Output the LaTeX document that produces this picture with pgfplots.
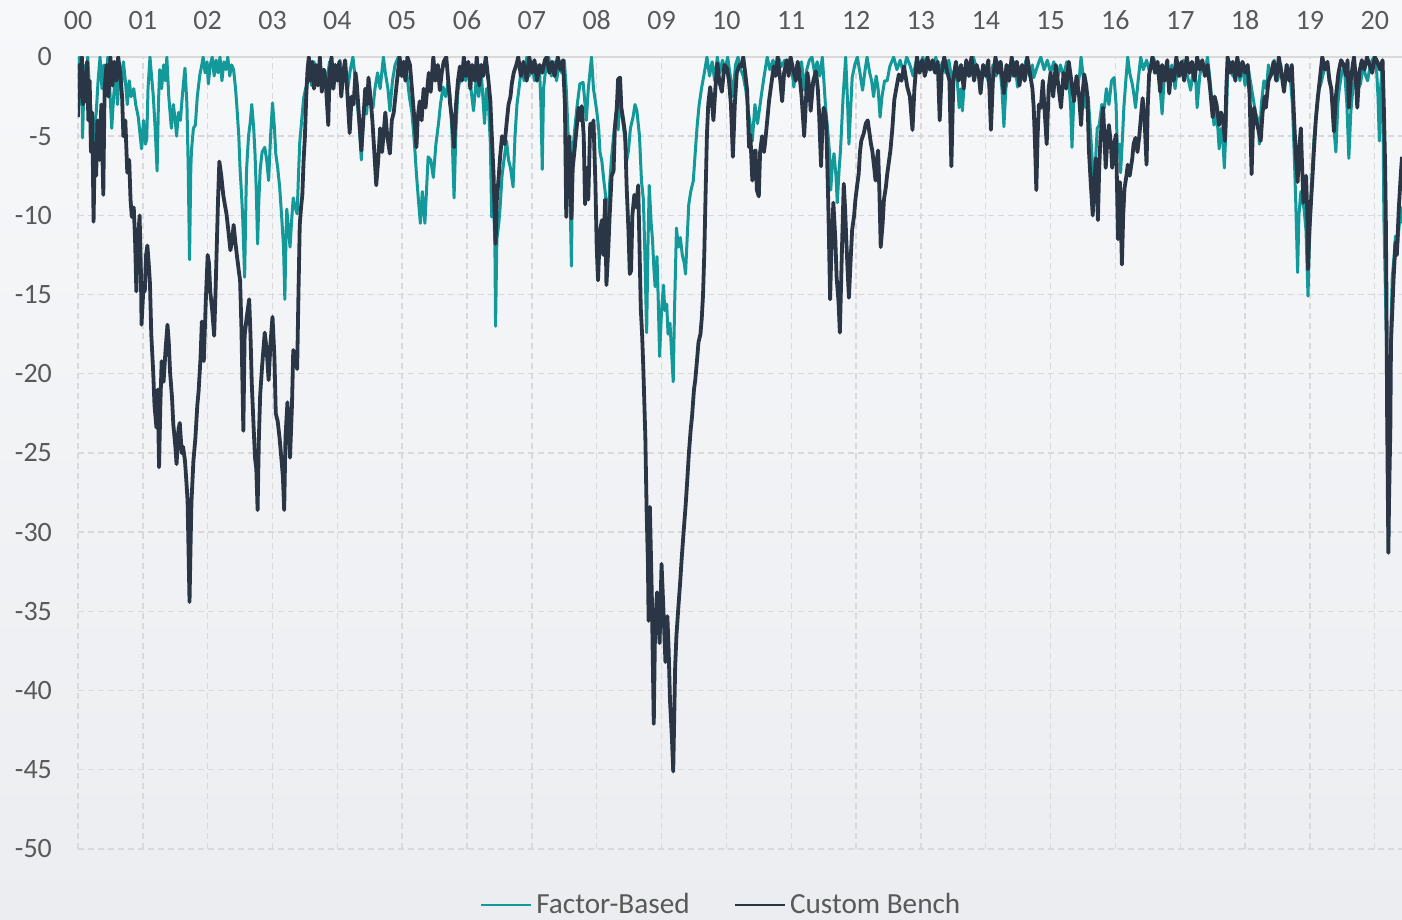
\documentclass[border=0pt]{standalone}
\usepackage{pgfplots}
\usepackage{pgfplotstable}
\pgfplotsset{compat=1.18}
\usepackage{fontspec}
\setmainfont{Carlito}

\definecolor{factor}{HTML}{13999A}
\definecolor{bench}{HTML}{2A3645}
\definecolor{gridgray}{HTML}{D9D9D9}
\definecolor{labelgray}{HTML}{595959}

% drawdown in percent, x = years after 2000
\pgfplotstableread{
x y
0.00 -2.0
0.02 0
0.04 -3.0
0.06 -1.0
0.07 -5.1
0.09 -2.0
0.11 -0.5
0.13 -2.5
0.15 0
0.17 -1.5
0.20 -3.5
0.22 -5.5
0.24 -8.7
0.26 -4.0
0.28 -3.6
0.31 -1.5
0.34 0
0.37 -2.0
0.40 -0.5
0.43 -1.5
0.46 0
0.49 -2.0
0.52 -4.5
0.55 -2.5
0.58 -1.0
0.61 -3.0
0.64 -0.5
0.67 -1.8
0.70 -0.3
0.73 -1.5
0.76 -3.0
0.79 -1.5
0.82 -2.5
0.86 -2.0
0.89 -3.0
0.93 -3.8
0.96 -5.0
0.98 -5.8
1.01 -4.0
1.04 -5.5
1.06 -5.2
1.08 -2.0
1.11 0
1.13 -1.0
1.16 -2.4
1.19 -4.5
1.22 -7.2
1.24 -3.0
1.26 -0.8
1.29 -2.0
1.32 -0.5
1.35 -1.5
1.37 0
1.40 -2.5
1.44 -4.5
1.47 -3.0
1.50 -4.0
1.52 -5.0
1.55 -3.5
1.58 -4.0
1.60 -2.9
1.63 -1.5
1.65 -0.7
1.68 -3.0
1.70 -7.0
1.72 -12.8
1.74 -7.0
1.75 -5.9
1.78 -4.5
1.81 -4.3
1.84 -2.5
1.88 -1.1
1.91 -0.5
1.93 0
1.96 -1.0
1.99 -0.3
2.01 -1.7
2.04 -0.5
2.07 0
2.10 -1.2
2.13 -0.2
2.16 -1.0
2.19 0
2.22 -1.5
2.25 -0.3
2.28 -0.8
2.31 0
2.34 -1.2
2.37 -0.5
2.40 -0.8
2.43 -2.0
2.45 -3.1
2.48 -5.0
2.50 -7.1
2.52 -8.5
2.54 -10.1
2.57 -13.9
2.59 -9.0
2.60 -7.1
2.63 -5.0
2.66 -4.0
2.68 -3.0
2.71 -4.5
2.73 -6.1
2.75 -8.5
2.77 -11.8
2.79 -9.0
2.81 -7.1
2.84 -6.0
2.88 -5.7
2.91 -6.5
2.94 -7.8
2.97 -5.0
3.00 -2.9
3.03 -4.5
3.05 -6.1
3.08 -7.0
3.11 -8.2
3.14 -10.0
3.17 -12.0
3.19 -15.3
3.21 -11.0
3.22 -9.6
3.25 -11.0
3.27 -12.0
3.30 -10.0
3.32 -8.9
3.35 -9.5
3.38 -9.9
3.40 -7.5
3.42 -5.4
3.45 -4.0
3.48 -2.6
3.51 -2.0
3.54 -1.5
3.57 -0.5
3.60 -1.8
3.64 -0.3
3.68 -1.5
3.72 -0.5
3.76 -2.0
3.80 -0.8
3.84 -1.5
3.88 -0.3
3.92 -2.0
3.96 -0.5
4.00 -1.2
4.04 -0.2
4.08 -1.5
4.12 -0.5
4.16 -2.0
4.20 -0.8
4.24 0
4.28 -1.5
4.31 -3.0
4.34 -4.5
4.37 -6.5
4.40 -4.0
4.43 -2.5
4.45 -3.6
4.48 -2.0
4.52 -2.8
4.55 -3.2
4.58 -2.0
4.62 -1.0
4.66 -2.0
4.71 0
4.74 -1.0
4.78 -2.0
4.81 -3.4
4.85 -1.5
4.89 -0.5
4.94 0
4.97 -0.5
5.00 -1.2
5.04 -0.3
5.07 -1.0
5.11 -2.5
5.15 -3.5
5.19 -5.5
5.22 -7.4
5.25 -9.0
5.28 -10.5
5.31 -8.5
5.33 -9.5
5.35 -10.5
5.38 -8.0
5.40 -6.3
5.44 -6.5
5.48 -7.6
5.52 -5.5
5.56 -4.2
5.59 -3.0
5.63 -1.9
5.67 -2.5
5.71 -1.5
5.74 -2.5
5.77 -5.0
5.80 -8.9
5.83 -4.5
5.86 -2.1
5.90 -1.2
5.94 -0.6
5.98 -1.5
6.02 -0.5
6.06 -2.0
6.10 -3.4
6.14 -1.5
6.18 -2.5
6.22 -1.0
6.27 -4.2
6.30 -2.0
6.33 -3.0
6.36 -5.5
6.38 -10.1
6.41 -9.0
6.43 -12.0
6.44 -17.0
6.46 -11.5
6.49 -10.5
6.51 -9.5
6.54 -7.5
6.57 -6.5
6.61 -5.3
6.64 -6.5
6.67 -7.0
6.71 -8.2
6.74 -5.0
6.77 -3.0
6.81 -1.7
6.84 -0.5
6.88 -1.5
6.92 0
6.96 -1.2
7.00 -0.3
7.04 -1.5
7.08 -0.5
7.12 -1.0
7.14 -3.0
7.16 -7.1
7.18 -2.0
7.22 -0.5
7.26 0
7.30 -1.2
7.34 -0.3
7.38 -1.5
7.42 -0.5
7.46 -1.0
7.50 -0.2
7.53 -2.0
7.56 -5.0
7.59 -9.0
7.61 -13.2
7.63 -6.0
7.66 -4.6
7.70 -3.0
7.74 -1.7
7.79 -1.6
7.82 -3.0
7.84 -4.0
7.87 -2.0
7.90 -0.8
7.92 0
7.95 -2.0
8.00 -3.4
8.03 -4.5
8.05 -6.0
8.08 -6.6
8.11 -7.8
8.13 -8.5
8.15 -9.3
8.18 -10.7
8.20 -8.0
8.23 -6.3
8.26 -5.0
8.30 -3.5
8.33 -4.6
8.36 -2.5
8.40 -4.0
8.43 -5.0
8.46 -6.6
8.49 -5.9
8.52 -4.5
8.56 -3.8
8.59 -3.0
8.62 -3.4
8.66 -5.0
8.69 -7.8
8.72 -9.0
8.74 -12.0
8.77 -17.4
8.79 -12.0
8.81 -8.1
8.84 -10.5
8.86 -11.5
8.88 -13.2
8.90 -14.5
8.93 -12.6
8.95 -15.5
8.97 -18.9
9.00 -16.0
9.03 -14.4
9.05 -16.0
9.08 -15.6
9.10 -17.5
9.13 -16.8
9.16 -19.0
9.18 -20.5
9.20 -16.0
9.23 -10.8
9.26 -12.0
9.29 -11.4
9.32 -12.5
9.35 -13.0
9.37 -13.7
9.40 -11.0
9.42 -9.3
9.45 -8.5
9.49 -7.8
9.52 -6.0
9.55 -4.3
9.58 -3.0
9.62 -1.9
9.66 -1.0
9.70 0
9.74 -1.2
9.78 -0.3
9.82 -1.5
9.86 0
9.90 -1.0
9.94 -0.2
9.98 -0.8
10.02 0
10.06 -1.2
10.10 -2.5
10.14 -0.5
10.18 0
10.22 -0.8
10.26 -1.2
10.30 -2.1
10.34 -3.5
10.37 -4.3
10.40 -5.3
10.44 -3.0
10.48 -4.2
10.52 -3.0
10.55 -2.1
10.59 -1.0
10.63 0
10.67 -0.8
10.72 -0.2
10.76 -1.0
10.80 0
10.85 -0.6
10.90 -0.2
10.95 -1.0
10.99 0
11.04 -1.9
11.08 -0.5
11.12 -1.0
11.16 -0.3
11.20 -2.1
11.24 -0.8
11.28 -0.2
11.32 0
11.36 -1.0
11.40 -0.3
11.44 -1.2
11.48 0
11.53 -3.2
11.56 -4.5
11.59 -6.0
11.61 -8.4
11.63 -7.0
11.66 -6.1
11.69 -7.5
11.71 -9.2
11.74 -7.0
11.76 -5.9
11.80 -2.5
11.84 0
11.87 -3.0
11.89 -5.5
11.92 -3.0
11.94 -1.3
11.98 -0.5
12.02 0
12.06 -1.0
12.10 -2.1
12.14 -0.8
12.17 0
12.21 -1.0
12.24 -1.5
12.27 -2.5
12.31 -1.2
12.34 -2.0
12.37 -3.8
12.40 -2.5
12.44 -1.5
12.48 -1.5
12.52 -0.6
12.58 0
12.63 -0.8
12.68 -0.2
12.73 -1.0
12.78 0
12.83 -0.5
12.88 -1.2
12.93 -0.2
12.98 -0.8
13.03 0
13.08 -1.0
13.13 -0.3
13.18 -0.8
13.23 0
13.28 -1.2
13.33 -0.3
13.38 -1.0
13.43 -0.2
13.48 -1.5
13.53 -0.5
13.57 -2.0
13.59 -3.2
13.62 -2.0
13.64 -3.4
13.67 -1.5
13.71 -0.3
13.76 -1.2
13.81 0
13.86 -0.8
13.91 -1.5
13.96 -0.5
14.01 -1.0
14.06 -2.0
14.11 -0.5
14.16 -1.2
14.21 -0.3
14.25 -2.0
14.28 -4.4
14.31 -2.0
14.33 -1.5
14.37 -0.5
14.41 -1.2
14.45 -0.3
14.49 -1.9
14.53 -0.6
14.58 -1.0
14.62 -0.2
14.67 -1.2
14.72 -0.5
14.74 -1.3
14.78 -0.8
14.82 -0.3
14.85 0
14.90 -0.8
14.95 -0.2
15.00 -1.0
15.05 -0.3
15.10 -1.5
15.15 -0.5
15.20 -1.2
15.25 -0.3
15.29 -2.0
15.31 -3.2
15.33 -5.7
15.36 -2.5
15.41 -2.1
15.45 -1.0
15.47 0
15.51 -1.5
15.54 -3.2
15.58 -2.5
15.62 -5.0
15.65 -7.0
15.67 -8.5
15.70 -6.0
15.72 -4.5
15.75 -4.3
15.79 -3.0
15.83 -3.2
15.86 -2.0
15.90 -3.0
15.94 -1.5
15.98 -1.3
16.01 -3.0
16.03 -6.0
16.06 -5.5
16.08 -7.3
16.11 -5.0
16.13 -3.2
16.16 -1.5
16.19 0
16.22 -1.0
16.26 -1.7
16.29 -2.5
16.31 -3.2
16.35 -1.5
16.39 0
16.43 -0.8
16.48 -0.2
16.53 -1.0
16.58 0
16.63 -0.5
16.68 -1.5
16.72 -3.6
16.75 -1.5
16.79 -0.3
16.83 -1.5
16.87 -0.5
16.92 -2.0
16.96 -0.5
17.00 -1.2
17.05 -0.2
17.10 -1.0
17.16 -2.1
17.20 -0.8
17.24 -1.5
17.26 -3.2
17.30 -1.2
17.34 -0.3
17.38 -1.0
17.42 0
17.46 -1.5
17.49 -3.0
17.52 -4.3
17.55 -3.5
17.58 -4.5
17.60 -5.8
17.63 -4.5
17.66 -5.5
17.68 -7.0
17.71 -4.0
17.73 -1.1
17.77 -0.3
17.81 -1.2
17.85 -0.5
17.88 0
17.92 -1.5
17.96 -0.5
18.00 -1.8
18.04 -0.5
18.08 -1.5
18.12 -2.5
18.16 -3.5
18.20 -4.0
18.22 -5.5
18.25 -3.0
18.29 -1.5
18.33 -2.0
18.36 -0.5
18.40 -1.2
18.45 -0.2
18.50 -1.5
18.55 -0.5
18.60 -2.0
18.65 -0.5
18.70 -1.5
18.73 -3.0
18.76 -6.4
18.78 -9.0
18.81 -13.6
18.83 -10.0
18.86 -8.5
18.88 -9.0
18.91 -9.6
18.94 -11.0
18.97 -15.1
18.99 -12.0
19.01 -9.6
19.04 -7.0
19.06 -5.3
19.10 -3.5
19.14 -2.1
19.18 -1.5
19.22 -0.8
19.27 -0.6
19.31 -1.5
19.35 -3.0
19.38 -5.0
19.40 -6.0
19.43 -3.0
19.45 -2.1
19.49 -1.0
19.53 -0.6
19.57 -3.0
19.60 -6.4
19.63 -3.5
19.66 -2.1
19.70 -1.0
19.74 -2.0
19.78 -1.7
19.82 -0.5
19.86 -1.2
19.89 -1.5
19.93 -0.5
19.96 -0.2
19.99 0
20.03 -1.0
20.05 -2.5
20.07 -5.3
20.09 -2.0
20.12 -0.2
20.14 -10.0
20.16 -14.0
20.18 -18.0
20.19 -21.3
20.20 -26.0
20.21 -30.9
20.22 -27.0
20.24 -20.3
20.25 -17.0
20.27 -13.9
20.30 -12.5
20.32 -11.3
20.35 -12.0
20.37 -10.9
20.40 -9.5
20.42 -10.5
}\factortable

\pgfplotstableread{
x y
0.00 -3.8
0.02 -0.5
0.04 -2.5
0.06 0
0.08 -3.0
0.10 -1.0
0.12 -2.8
0.14 -0.3
0.16 -4.0
0.18 -1.5
0.20 -6.0
0.22 -3.5
0.24 -10.4
0.26 -5.5
0.28 -7.5
0.30 -4.0
0.33 -6.5
0.36 -3.0
0.39 -8.7
0.41 -2.0
0.44 -0.5
0.47 -2.5
0.50 0
0.53 -1.8
0.56 -0.3
0.59 -1.5
0.62 0
0.65 -1.0
0.68 -2.5
0.70 -5.0
0.73 -4.0
0.76 -7.3
0.79 -6.5
0.81 -9.0
0.83 -10.1
0.86 -9.5
0.88 -11.5
0.90 -14.8
0.92 -12.0
0.95 -10.0
0.97 -13.5
0.98 -16.9
1.01 -14.5
1.03 -14.8
1.05 -12.5
1.07 -11.9
1.09 -13.0
1.11 -14.3
1.13 -17.5
1.16 -19.9
1.18 -22.0
1.21 -23.4
1.23 -21.0
1.25 -25.9
1.27 -22.0
1.29 -19.2
1.32 -20.5
1.35 -18.5
1.38 -16.9
1.40 -18.0
1.42 -19.9
1.45 -21.5
1.47 -23.2
1.50 -24.5
1.52 -25.7
1.55 -23.5
1.57 -23.1
1.60 -25.0
1.62 -24.6
1.65 -25.5
1.67 -26.7
1.69 -28.0
1.72 -34.4
1.74 -30.0
1.75 -28.1
1.78 -25.5
1.81 -24.1
1.84 -22.0
1.86 -21.1
1.89 -19.0
1.91 -16.7
1.93 -18.0
1.94 -19.2
1.97 -15.5
2.00 -12.5
2.02 -13.0
2.04 -14.8
2.07 -16.0
2.10 -17.6
2.12 -15.0
2.14 -12.0
2.16 -9.0
2.18 -6.6
2.21 -7.5
2.24 -8.7
2.26 -9.2
2.29 -9.9
2.32 -11.0
2.35 -12.2
2.38 -11.5
2.40 -10.6
2.43 -11.8
2.45 -12.5
2.48 -13.5
2.50 -14.1
2.52 -17.0
2.55 -23.6
2.57 -17.6
2.60 -16.5
2.64 -15.3
2.66 -17.5
2.68 -20.6
2.71 -23.5
2.73 -25.3
2.75 -26.0
2.77 -28.6
2.79 -24.0
2.81 -21.3
2.84 -19.5
2.88 -17.4
2.91 -18.5
2.94 -20.4
2.97 -18.0
3.00 -16.4
3.03 -19.0
3.05 -22.5
3.08 -23.0
3.11 -24.1
3.14 -25.5
3.16 -26.5
3.18 -28.6
3.20 -24.0
3.23 -21.8
3.25 -23.5
3.27 -25.3
3.30 -22.0
3.32 -18.5
3.35 -19.0
3.38 -19.7
3.40 -15.0
3.42 -10.6
3.44 -9.5
3.46 -8.7
3.48 -6.5
3.50 -5.0
3.52 -2.5
3.54 -0.8
3.56 0
3.58 -1.5
3.61 -0.3
3.64 -2.0
3.67 -0.5
3.70 -1.8
3.73 0
3.76 -2.2
3.79 -0.8
3.82 -1.5
3.86 -4.3
3.88 -1.0
3.91 0
3.94 -2.0
3.97 -0.5
4.00 -1.5
4.03 -0.3
4.06 -2.5
4.09 -1.0
4.12 -0.2
4.15 -2.0
4.19 -4.8
4.22 -2.5
4.25 -3.0
4.28 -1.0
4.30 -1.7
4.33 -3.5
4.37 -5.9
4.40 -4.0
4.43 -2.0
4.46 -3.0
4.48 -1.3
4.51 -2.5
4.54 -4.0
4.57 -6.0
4.60 -8.1
4.63 -6.5
4.66 -4.5
4.69 -6.0
4.71 -5.0
4.74 -3.5
4.77 -5.0
4.81 -6.1
4.84 -4.0
4.87 -3.5
4.89 -2.7
4.92 -1.5
4.96 0
4.99 -1.2
5.02 -0.3
5.05 -1.5
5.08 0
5.12 -0.5
5.15 -2.0
5.18 -3.5
5.22 -5.7
5.24 -3.8
5.27 -2.8
5.30 -4.0
5.33 -2.0
5.36 -3.2
5.38 -2.3
5.41 -1.0
5.44 -2.2
5.48 0
5.51 -1.5
5.55 -0.5
5.58 -2.1
5.61 -1.0
5.64 -0.3
5.68 0
5.71 -1.5
5.74 -3.0
5.77 -4.0
5.80 -5.7
5.83 -3.0
5.86 -1.5
5.89 -0.6
5.92 -1.5
5.95 0
5.98 -1.2
6.02 -0.3
6.05 -2.0
6.08 -0.5
6.12 -1.5
6.15 0
6.19 -1.8
6.22 -0.5
6.25 -1.2
6.29 0
6.33 -1.5
6.36 -2.8
6.38 -4.8
6.41 -7.5
6.44 -11.8
6.46 -9.0
6.49 -7.5
6.51 -6.3
6.54 -5.0
6.58 -5.5
6.61 -4.2
6.64 -3.0
6.67 -2.5
6.69 -1.7
6.72 -1.0
6.76 -0.5
6.79 0
6.83 -1.2
6.87 -0.3
6.92 -1.5
6.96 0
7.00 -1.0
7.04 -0.2
7.08 -1.5
7.12 -0.5
7.16 -1.0
7.20 -0.2
7.23 0
7.27 -1.0
7.31 -0.3
7.35 -1.2
7.40 0
7.44 -0.8
7.48 -0.2
7.51 -3.0
7.53 -10.1
7.56 -6.5
7.58 -5.0
7.61 -10.2
7.63 -7.0
7.66 -5.8
7.69 -4.5
7.72 -3.2
7.75 -4.0
7.77 -3.1
7.80 -5.0
7.82 -9.3
7.85 -7.0
7.87 -9.0
7.90 -4.2
7.93 -5.0
7.95 -4.0
7.98 -8.0
8.00 -12.0
8.02 -14.1
8.05 -11.0
8.08 -10.3
8.10 -12.5
8.13 -9.0
8.15 -14.4
8.18 -12.0
8.20 -10.0
8.23 -7.5
8.26 -7.2
8.28 -4.5
8.31 -3.2
8.33 -1.4
8.36 -1.3
8.38 -3.2
8.41 -4.0
8.44 -4.9
8.46 -8.0
8.49 -11.0
8.51 -13.7
8.53 -13.5
8.55 -10.0
8.58 -8.7
8.61 -9.5
8.64 -8.1
8.66 -12.0
8.68 -15.9
8.70 -17.5
8.72 -19.8
8.75 -24.0
8.77 -28.7
8.79 -32.0
8.80 -35.6
8.82 -28.4
8.85 -34.0
8.88 -42.1
8.90 -36.0
8.93 -33.8
8.95 -35.5
8.97 -37.0
9.00 -32.0
9.03 -35.0
9.06 -38.2
9.09 -35.3
9.11 -37.5
9.13 -40.6
9.16 -43.0
9.18 -45.1
9.21 -38.5
9.23 -36.5
9.26 -34.7
9.29 -33.0
9.31 -31.7
9.34 -30.0
9.37 -28.4
9.40 -26.5
9.42 -25.1
9.45 -23.5
9.47 -22.7
9.50 -21.0
9.52 -20.4
9.55 -19.0
9.57 -18.0
9.60 -17.5
9.62 -16.5
9.64 -15.0
9.66 -12.3
9.68 -8.5
9.70 -4.9
9.72 -3.0
9.75 -1.9
9.78 -3.0
9.80 -4.0
9.83 -2.0
9.86 -0.4
9.89 -1.5
9.93 -2.2
9.97 -0.5
10.01 -0.7
10.04 -1.5
10.07 -3.0
10.10 -6.3
10.13 -3.0
10.16 -1.0
10.20 -0.5
10.23 -0.6
10.26 0
10.29 -1.0
10.32 -2.1
10.35 -5.7
10.37 -4.9
10.40 -7.8
10.42 -6.0
10.45 -5.9
10.47 -8.4
10.50 -8.8
10.52 -6.0
10.55 -5.0
10.58 -6.0
10.60 -5.3
10.63 -4.0
10.66 -2.7
10.70 -1.5
10.73 -0.6
10.76 -1.2
10.79 0
10.82 -1.0
10.86 -2.8
10.89 -1.0
10.93 -0.2
10.96 -1.2
10.99 0
11.03 -0.8
11.07 -1.5
11.10 -0.3
11.12 -0.8
11.16 -2.5
11.20 -5.0
11.23 -2.5
11.25 -1.0
11.28 -2.0
11.30 -3.4
11.34 -1.5
11.38 -0.9
11.41 -2.0
11.43 -3.6
11.46 -6.9
11.48 -4.5
11.50 -3.2
11.52 -3.5
11.54 -4.2
11.57 -9.0
11.60 -15.3
11.62 -12.0
11.65 -9.2
11.68 -11.5
11.70 -13.9
11.73 -15.5
11.75 -17.4
11.78 -12.5
11.81 -8.0
11.83 -9.5
11.85 -11.6
11.87 -13.5
11.89 -15.2
11.92 -12.5
11.94 -10.9
11.97 -10.0
11.99 -9.0
12.02 -8.0
12.04 -7.4
12.06 -6.0
12.08 -5.3
12.12 -4.8
12.15 -4.2
12.18 -4.0
12.20 -4.6
12.23 -5.5
12.25 -5.9
12.28 -7.0
12.30 -7.8
12.32 -6.5
12.34 -5.9
12.36 -8.5
12.38 -12.0
12.41 -10.5
12.43 -9.0
12.46 -8.2
12.48 -7.4
12.51 -6.5
12.53 -5.9
12.56 -4.5
12.59 -2.7
12.62 -2.0
12.66 -1.1
12.70 -1.5
12.74 -0.6
12.79 -1.9
12.83 -2.5
12.87 -4.6
12.90 -2.0
12.94 0
12.98 -1.0
13.02 -0.2
13.06 -1.2
13.10 0
13.14 -0.8
13.18 -0.2
13.22 -1.0
13.26 -0.3
13.29 -4.0
13.32 -1.0
13.36 0
13.40 -0.8
13.44 -1.5
13.47 -6.9
13.50 -1.5
13.54 -0.3
13.58 -1.5
13.62 -0.5
13.66 -2.0
13.70 -0.2
13.74 -1.2
13.78 0
13.82 -1.5
13.86 -0.5
13.89 -1.0
13.92 -2.3
13.96 -0.5
14.00 -1.2
14.04 -0.2
14.08 -4.6
14.11 -1.5
14.15 0
14.19 -1.0
14.23 -0.3
14.28 -2.3
14.32 -0.5
14.36 -1.5
14.40 0
14.44 -1.2
14.48 -0.3
14.52 -1.8
14.56 -0.5
14.60 -1.5
14.64 0
14.68 -1.0
14.72 -2.0
14.74 -3.2
14.76 -5.5
14.78 -8.4
14.80 -5.0
14.82 -3.0
14.85 -3.2
14.88 -1.5
14.91 -3.5
14.94 -5.5
14.97 -2.0
15.00 -1.0
15.04 -2.5
15.08 -0.5
15.12 -1.8
15.16 -3.2
15.20 -1.0
15.24 -2.0
15.28 -0.3
15.32 -1.5
15.36 -2.8
15.40 -1.2
15.44 -2.5
15.47 -4.3
15.50 -2.0
15.52 -1.1
15.55 -1.8
15.57 -2.6
15.59 -5.8
15.62 -8.0
15.65 -10.0
15.67 -8.0
15.70 -6.4
15.73 -10.3
15.75 -7.0
15.77 -5.1
15.81 -3.2
15.83 -5.0
15.85 -7.0
15.88 -5.0
15.90 -4.3
15.93 -5.5
15.95 -7.0
15.98 -5.5
16.01 -4.9
16.04 -11.5
16.07 -7.9
16.10 -13.1
16.12 -10.0
16.14 -8.3
16.17 -7.5
16.19 -6.8
16.22 -7.5
16.26 -6.4
16.28 -5.5
16.31 -5.1
16.34 -6.0
16.37 -4.9
16.40 -3.5
16.42 -2.6
16.45 -4.0
16.48 -6.8
16.50 -3.0
16.52 -1.1
16.55 -0.5
16.57 0
16.61 -1.0
16.65 -0.3
16.69 -2.2
16.72 -0.5
16.76 -1.5
16.80 -0.2
16.83 -2.3
16.86 -0.8
16.90 -1.5
16.94 0
16.98 -1.2
17.02 -0.3
17.06 -1.5
17.10 0
17.14 -1.0
17.18 -0.3
17.22 -1.5
17.26 0
17.30 -0.8
17.34 -0.2
17.38 -1.2
17.42 -0.5
17.46 -2.0
17.50 -3.8
17.53 -2.5
17.56 -3.0
17.60 -4.3
17.63 -3.5
17.66 -4.0
17.69 -5.3
17.71 -2.0
17.73 0
17.77 -1.0
17.81 -0.3
17.85 -1.5
17.88 0
17.92 -1.2
17.96 -0.3
18.00 -1.0
18.04 -0.5
18.07 -2.5
18.10 -7.4
18.12 -4.5
18.14 -3.2
18.17 -4.0
18.20 -4.5
18.24 -5.3
18.27 -3.5
18.30 -2.5
18.32 -3.2
18.36 -1.5
18.40 -1.1
18.44 -0.3
18.48 -1.5
18.52 0
18.56 -1.0
18.60 -2.2
18.64 -0.5
18.68 -1.5
18.72 -0.5
18.76 -4.3
18.78 -6.0
18.81 -7.9
18.83 -6.0
18.86 -4.5
18.88 -7.0
18.90 -9.2
18.92 -8.0
18.94 -7.5
18.96 -10.0
18.97 -13.4
18.99 -11.0
19.01 -9.6
19.04 -7.5
19.06 -6.0
19.09 -4.0
19.12 -2.6
19.15 -1.5
19.19 0
19.23 -0.8
19.27 -0.3
19.30 -1.5
19.33 -2.0
19.37 -4.7
19.40 -2.5
19.44 -1.0
19.48 -0.2
19.52 -0.5
19.56 -1.2
19.58 -0.2
19.60 -3.2
19.63 -1.5
19.66 -0.5
19.68 0
19.71 -1.5
19.73 -3.2
19.76 -1.0
19.80 -0.2
19.84 -0.8
19.88 0
19.92 -0.5
19.96 -1.0
20.00 0
20.04 -0.3
20.08 -0.8
20.12 -0.2
20.14 -3.2
20.16 -7.0
20.17 -10.0
20.18 -15.0
20.19 -22.4
20.20 -27.0
20.21 -31.3
20.22 -28.0
20.24 -23.5
20.25 -18.0
20.27 -16.0
20.29 -14.0
20.32 -11.7
20.34 -12.5
20.37 -9.6
20.40 -7.5
20.42 -6.3
}\benchtable

\begin{document}
\begin{tikzpicture}
  % page background
  \fill[top color={rgb,255:red,247;green,248;blue,250}, bottom color={rgb,255:red,236;green,237;blue,240}]
    (-39pt,-35.5pt) rectangle (662pt,424.5pt);
  \begin{axis}[
      scale only axis,
      width=662pt, height=396pt,
      xmin=0, xmax=20.42,
      ymin=-50, ymax=0,
      xtick={0,...,20},
      xticklabels={00,01,02,03,04,05,06,07,08,09,10,11,12,13,14,15,16,17,18,19,20},
      ytick={-50,-45,...,0},
      yticklabels={-50,-45,-40,-35,-30,-25,-20,-15,-10,-5,0},
      xticklabel pos=upper,
      major tick length=0pt,
      axis line style={draw=none},
      grid=major,
      major grid style={draw=gridgray, line width=0.7pt, dash pattern=on 3pt off 2pt},
      tick label style={font=\fontsize{14}{16}\selectfont, text=labelgray},
      xticklabel style={yshift=10pt},
      yticklabel style={xshift=-9.5pt},
      legend columns=2,
      legend style={at={(0.4865,-0.0707)}, anchor=center, draw=none, fill=none,
        font=\fontsize{14.6}{16}\selectfont, text=labelgray,
        /tikz/every even column/.append style={column sep=20pt}},
      legend image code/.code={\draw[#1, line width=1.2pt] (0pt,0pt) -- (25pt,0pt);},
      every axis plot/.append style={line join=round},
    ]
    \draw[gridgray, line width=0.9pt] (rel axis cs:0,1) -- (rel axis cs:1,1);
    \addplot[factor, line width=1.5pt] table {\factortable};
    \addlegendentry{Factor-Based}
    \addplot[bench, line width=1.9pt] table {\benchtable};
    \addlegendentry{Custom Bench}
  \end{axis}
  \pgfresetboundingbox
  \path[use as bounding box] (-39pt,-35.5pt) rectangle (662pt,424.5pt);
\end{tikzpicture}
\end{document}
